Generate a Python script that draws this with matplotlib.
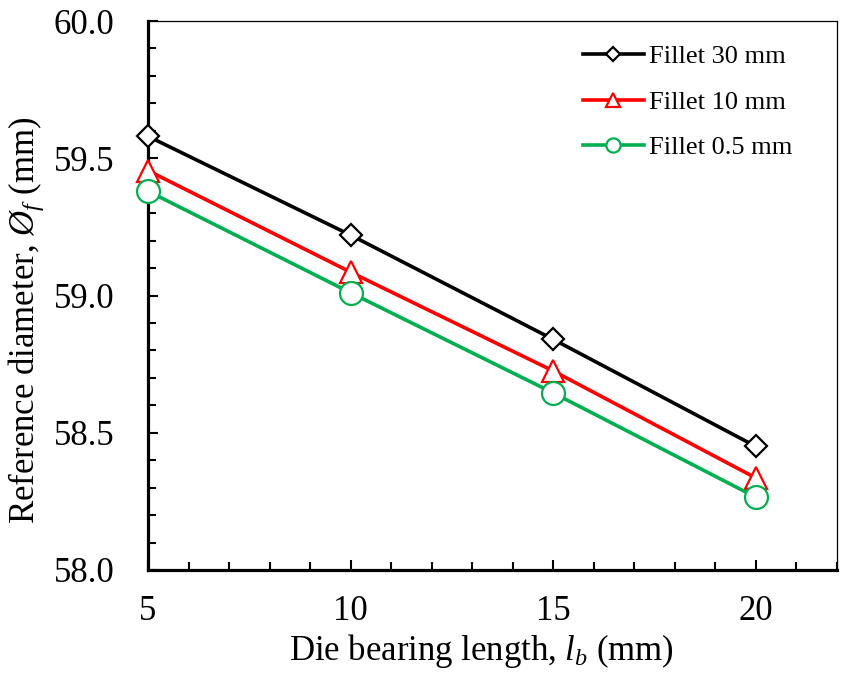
import matplotlib
matplotlib.use("Agg")
import matplotlib.pyplot as plt
from matplotlib.ticker import MultipleLocator

plt.rcParams['font.family'] = ['Liberation Serif', 'DejaVu Serif']
plt.rcParams['mathtext.fontset'] = 'custom'
plt.rcParams['mathtext.rm'] = 'Liberation Serif'
plt.rcParams['mathtext.it'] = 'Liberation Serif:italic'

x = [5, 10, 15, 20]
fillet_30 = [59.58, 59.22, 58.84, 58.45]
fillet_10 = [59.455, 59.085, 58.725, 58.335]
fillet_05 = [59.38, 59.01, 58.645, 58.265]

labels = ["Fillet 30 mm", "Fillet 10 mm", "Fillet 0.5 mm"]
colors = ["#000000", "#FF0000", "#00B050"]
markers = ["D", "^", "o"]
msizes = [11.2, 16, 16.5]

fig = plt.figure(figsize=(8.41, 6.74), dpi=100)
ax = fig.add_axes([148/841, 1-570/674, (837-148)/841, (570-21)/674])

for ys, lab, c, m, s in zip([fillet_30, fillet_10, fillet_05], labels, colors, markers, msizes):
    ax.plot(x, ys, color=c, lw=2.6, marker=m, ms=s, mfc='white', mec=c, mew=1.6,
            label=lab, clip_on=False, zorder=3)

ax.set_xlim(5, 22)
ax.set_ylim(58.0, 60.0)
ax.set_xticks([5, 10, 15, 20])
ax.set_yticks([58.0, 58.5, 59.0, 59.5, 60.0])
ax.set_yticklabels(["58.0", "58.5", "59.0", "59.5", "60.0"])
ax.xaxis.set_minor_locator(MultipleLocator(1))
ax.yaxis.set_minor_locator(MultipleLocator(0.1))
ax.tick_params(which='both', direction='in', width=1.5, top=False, right=False, labelsize=25)
ax.tick_params(which='major', length=7)
ax.tick_params(which='minor', length=5.5)
ax.tick_params(axis='x', pad=18)
ax.tick_params(axis='y', pad=24)

for side in ['left', 'bottom']:
    ax.spines[side].set_linewidth(2.3)
for side in ['top', 'right']:
    ax.spines[side].set_linewidth(0.9)

ax.set_xlabel(r"Die bearing length, $\mathit{l}_{b}$ (mm)", fontsize=25)
ax.set_ylabel(r"Reference diameter, $\mathit{Ø}_{f}$ (mm)", fontsize=25)
ax.xaxis.set_label_coords((481 - 148) / 689, -(632 - 570) / 549)
ax.yaxis.set_label_coords(-(148 - 46) / 689, (570 - 320) / 549)

leg = ax.legend(loc='upper right', frameon=False, fontsize=19, markerscale=0.62,
                handlelength=2.3, handletextpad=0.2, labelspacing=0.84,
                bbox_to_anchor=(1.0 - 21/689, 1.0), borderaxespad=0.5)

fig.savefig("out.png", dpi=100)
